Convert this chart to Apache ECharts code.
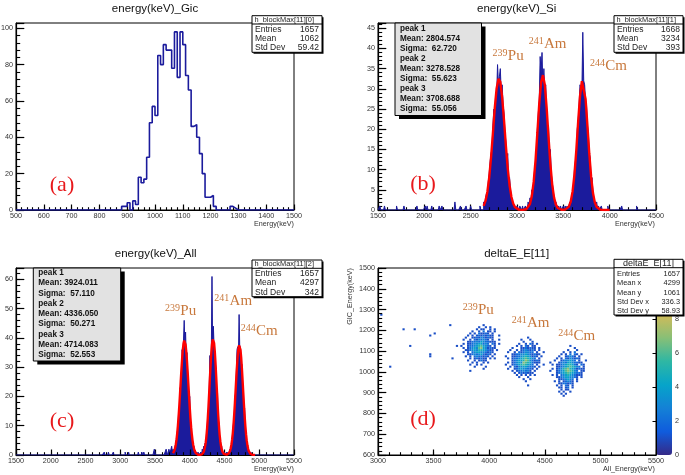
<!DOCTYPE html>
<html><head><meta charset="utf-8">
<script src="https://cdn.jsdelivr.net/npm/echarts@6.0.0/dist/echarts.min.js"></script>
<style>html,body{margin:0;padding:0;background:#fff}#c{width:685px;height:475px}</style>
</head><body><div id="c"></div>
<script>
// ---------------- data ----------------
// (a) energy(keV)_Gic : 10 keV bins starting at 880 keV
const aBinStart = 880, aBinWidth = 10;
const aCounts = [2,2,4,0,5,3,18,15,17,29,48,57,52,85,80,91,88,88,78,98,73,98,91,74,66,46,47,40,31,20,7,7,8,2,0,0,0,0,0,2,1];

// (b) energy(keV)_Si : 10 keV bins starting at 2640 keV
const bBinStart = 2640, bBinWidth = 10;
const bCounts = [
 2,1,3,4,3,7,9,12,14,15,
 21,25,23,29,28,36,31,33,35,29,
 31,26,24,19,17,11,14,7,8,5,
 3,2,2,1,1,0,1,1,0,1,
 1,0,1,0,0,1,1,0,2,1,
 3,2,5,4,7,10,11,14,20,24,
 27,38,34,39,30,35,29,31,24,20,
 21,13,15,9,7,5,3,1,2,1,
 0,1,0,1,0,0,1,0,1,0,
 1,0,1,2,1,3,4,6,10,12,
 14,20,22,26,31,30,29,44,32,31,
 27,26,21,19,14,13,7,8,4,3,
 3,1,2,0,1,0,0,1];
const bOutliers = [[1520,1],[1570,1],[1700,1],[1780,1],[1920,1],[2010,1],[2030,1],[2080,1],[2160,1],[2190,1],[2330,2],[2390,1],[2450,1],[2500,1],[2600,1],[3980,1],[4130,1],[4290,1]];
const bFitStart = 2640, bFitStep = 20;
const bFitValues = [1.0,2.25,4.46,8.02,13.0,19.0,25.2,30.1,32.5,31.7,27.9,22.2,15.9,10.3,6.07,3.21,1.54,0.66,0.26,0.09,0.03,0.02,0.06,0.19,0.57,1.50,3.45,6.95,12.3,19.2,26.3,31.6,33.4,31.0,25.3,18.1,11.4,6.30,3.07,1.31,0.49,0.16,0.06,0.04,0.09,0.30,0.85,2.11,4.61,8.84,14.8,21.9,28.2,31.9,31.6,27.5,20.9,14.0,8.18,4.20,1.89,0.75,0.26,0.08,0.02,0,0,0,0];

// (c) energy(keV)_All : 10 keV bins starting at 3650 keV
const cBinStart = 3650, cBinWidth = 10;
const cCounts = [
 0,2,1,0,1,2,1,1,2,3,
 1,2,1,2,3,4,4,8,9,15,
 14,23,22,27,36,33,39,46,37,42,
 33,35,28,25,18,20,11,10,6,5,
 2,3,1,0,1,0,0,1,0,0,
 0,1,0,2,1,3,2,4,3,7,
 9,14,15,22,34,27,34,61,35,44,
 37,33,31,29,20,21,12,11,6,5,
 2,3,1,1,0,1,0,0,1,0,
 1,0,1,2,1,4,5,9,11,13,
 20,21,28,36,37,33,48,36,37,27,
 31,20,24,14,16,9,6,5,3,2,
 1,1,0,1];
const cOutliers = [[2770,1],[2830,1],[2900,1],[3070,1],[3120,1],[3260,1],[3310,1],[3340,1],[3490,2],[3500,1]];
const cFitStart = 3760, cFitStep = 10;
const cFitValues = [0.63,1.03,1.63,2.5,3.7,5.3,7.5,10.1,13.3,16.9,20.9,25.1,29.1,32.8,35.9,38.0,39.1,39.0,37.7,35.3,32.1,28.3,24.2,20.1,16.2,12.6,9.5,7.0,5.0,3.4,2.3,1.5,0.94,0.57,0.34,0.19,0.1,
 0.05,0.03,0.06,0.09,0.17,
 0.32,0.59,1.03,1.73,2.79,4.3,6.4,9.2,12.7,16.8,21.4,26.2,30.8,34.8,37.8,39.5,39.7,38.3,35.5,31.7,27.1,22.4,17.7,13.5,9.9,6.9,4.7,3.05,1.9,1.15,0.66,0.37,0.19,0.1,
 0.09,0.1,0.16,
 0.29,0.51,0.88,1.46,2.32,3.58,5.3,7.6,10.5,14.0,17.9,22.2,26.5,30.5,33.9,36.3,37.5,37.4,35.9,33.3,29.7,25.6,21.3,17.1,13.2,9.9,7.1,4.9,3.3,2.1,1.3,0.79,0.46,0.26,0.14,
 0.07,0.04,0.02,0.01,0,0];

// (d) deltaE_E[11] : 2D cells, 20 keV (x) by 10 keV (y); rows from top; '.'=0, digits=counts
const dCellX = 20, dCellY = 10;
const dPuX0 = 3740, dPuYTop = 1220;
const dPuRows = [
"..........1.......","........1..1.1....",".......1.11..1.1..",".....1..1.2.11.1..",
"....1.1.21121.1...","...1.1.12121211..1","..1..1121321211...",".1..1.2132321.1..1",
"...1122324322111..",".1.1123344232.21.1","1..12234564321.1..",".1.1234367431211..",
"..1123435543211.1.",".1.1.2344332121...","...11232342121.1..","..1.1.2322121.1...",
"....1.121211.1.1..","...1..1.1211......",".....1.1..1.1.....","....1..1.1........",
"......1....1......","..........1.......","....1............."];
const dAmX0 = 4140, dAmYTop = 1160;
const dAmRows = [
"..........1.......",".......1...1......","........1...1.....","......1..1.21.1...",
".....1.1.21.11....","...1...1121211.1..","..1..1.1232121.1..",".1..1.2123322.1..1",
"...1122334321211..","1..112234543121.1.",".1.12234565432.1..","...1234457632121..",
".1.1234376542111..","1..1234565432.1..1","..1.2133443221.1..",".1..123433221.1...",
"...1.1223231.1....","....1.1212111.....",".....1.1.1.1.1....","......1...1.......",
"........1..1......",".........1........","..................","..........1......."];
const dCmX0 = 4540, dCmYTop = 1120;
const dCmRows = [
".........1........","...........1......","........1...1.....","......1..1.2......",
".....1.1.2.21.1...","....1..12321.1....","...1.1.2132121....","..1..1233432.1..1.",
"1...12324432211...",".1.1123455421.21..","...11234565432.1..",".1.1235675431211..",
"1..1234676532.11..","...123456543221...",".1.1.2345432111...","...1123443321.1...",
"....1123432.1.....","..1.1.12321.1.....","....1122121.......","...1.1.21.1.......",
"....11.12.1.......",".....1.11.........","....1.1..1........",".....1.1..........",
"......1..........."];
const dOutliers = [[3020,1270],[3100,1020],[3220,1200],[3320,1200],[3280,1120],[3460,1170],[3500,1180],[3460,1080],[3460,1070],[3640,1220],[3700,1120],[3660,1060]];
const dColorMax = 11;

// ---------------- helpers ----------------
const FONT = '"Liberation Sans", Arial, Helvetica, sans-serif';
const SERIF = '"Liberation Serif", "Times New Roman", serif';
const HIST = '#1b1b9c';
const ISO = '#c8783c';
const LAB = '#e8191c';

function histData(xmin, xmax, width, start, counts, outliers) {
  const n = Math.round((xmax - xmin) / width);
  const v = new Array(n).fill(0);
  const off = Math.round((start - xmin) / width);
  counts.forEach((c, i) => { const k = off + i; if (k >= 0 && k < n) v[k] = c; });
  (outliers || []).forEach(p => { const k = Math.round((p[0] - xmin) / width); if (k >= 0 && k < n) v[k] = p[1]; });
  const d = v.map((c, k) => [xmin + k * width, c]);
  d.push([xmax, v[n - 1]]);
  return d;
}
function fitData(start, step, vals) { return vals.map((v, i) => [start + i * step, v]); }
function cells(x0, yTop, rows) {
  const out = [];
  rows.forEach((row, r) => {
    for (let c = 0; c < row.length; c++) {
      const ch = row[c]; if (ch === '.') continue;
      out.push([x0 + c * dCellX + dCellX / 2, yTop - r * dCellY + dCellY / 2, parseInt(ch, 36)]);
    }
  });
  return out;
}
function fmt(step) { return v => (Math.abs(v / step - Math.round(v / step)) < 1e-6 ? String(Math.round(v)) : ''); }

const gridsPx = [
  {left: 16, top: 23, width: 278, height: 187},
  {left: 378, top: 23, width: 278, height: 187},
  {left: 16, top: 268, width: 278, height: 187},
  {left: 378, top: 268, width: 278, height: 187}
];
const axDef = [
  {x: [500, 1500, 100, 20], y: [0, 102.9, 20, 4]},
  {x: [1500, 4500, 500, 100], y: [0, 46.3, 5, 1]},
  {x: [1500, 5500, 500, 100], y: [0, 63.9, 10, 2]},
  {x: [3000, 5500, 500, 100], y: [600, 1500, 100, 20]}
];
const xAxes = [], yAxes = [];
axDef.forEach((a, gi) => {
  const common = {type: 'value', gridIndex: gi, splitLine: {show: false}, minorTick: {show: false}, z: 3};
  xAxes.push(Object.assign({}, common, {min: a.x[0], max: a.x[1], interval: a.x[2], position: 'bottom',
    axisLine: {show: true, onZero: false, lineStyle: {color: '#000', width: 1.2}},
    axisTick: {show: true, inside: true, length: 5.5, lineStyle: {color: '#000', width: 1.2}},
    axisLabel: {show: true, interval: 0, showMinLabel: true, showMaxLabel: true, hideOverlap: false, margin: 3, fontSize: 7.2, color: '#333', fontFamily: FONT, formatter: fmt(a.x[2])}}));
  xAxes.push(Object.assign({}, common, {min: a.x[0], max: a.x[1], interval: a.x[3], position: 'bottom',
    axisLine: {show: false, onZero: false},
    axisTick: {show: true, inside: true, length: 2.8, lineStyle: {color: '#000', width: 1.1}},
    axisLabel: {show: false}}));
  yAxes.push(Object.assign({}, common, {min: a.y[0], max: a.y[1], interval: a.y[2], position: 'left',
    axisLine: {show: true, onZero: false, lineStyle: {color: '#000', width: 1.2}},
    axisTick: {show: true, inside: true, length: 8.3, lineStyle: {color: '#000', width: 1.2}},
    axisLabel: {show: true, interval: 0, showMinLabel: true, showMaxLabel: true, hideOverlap: false, margin: 3, fontSize: 7.2, color: '#333', fontFamily: FONT, formatter: fmt(a.y[2])}}));
  yAxes.push(Object.assign({}, common, {min: a.y[0], max: a.y[1], interval: a.y[3], position: 'left',
    axisLine: {show: false, onZero: false},
    axisTick: {show: true, inside: true, length: 4.2, lineStyle: {color: '#000', width: 1.1}},
    axisLabel: {show: false}}));
});
// colour bar axis (grid 4)
xAxes.push({type: 'value', gridIndex: 4, show: false, min: 0, max: 1});
yAxes.push({type: 'value', gridIndex: 4, position: 'right', min: 0, max: dColorMax, interval: 2, z: 10,
  axisLine: {show: true, lineStyle: {color: '#000', width: 1}},
  axisTick: {show: true, inside: true, length: 3.5, lineStyle: {color: '#000', width: 1}},
  axisLabel: {show: true, margin: 3, fontSize: 7.2, color: '#333', fontFamily: FONT, formatter: fmt(2), showMaxLabel: true},
  splitLine: {show: false}});

// graphic helpers
function txt(x, y, s, o) {
  o = o || {};
  const align = o.align || 'left', va = o.va || 'middle';
  return {type: 'text', x: x, y: y, rotation: o.rot || 0, z: o.z || 120, silent: true,
    style: {text: s, fill: o.color || '#222', font: (o.weight || 'normal') + ' ' + (o.size || 8.5) + 'px ' + (o.family || FONT),
      align: align, verticalAlign: va, textAlign: align, textVerticalAlign: va}};
}
function rect(x, y, w, h, fill, stroke, lw, z) {
  return {type: 'rect', z: z, silent: true, shape: {x: x, y: y, width: w, height: h},
    style: {fill: fill, stroke: stroke || null, lineWidth: lw || 0}};
}
function hline(x1, x2, y, z) {
  return {type: 'line', z: z, silent: true, shape: {x1: x1, y1: y, x2: x2, y2: y}, style: {stroke: '#000', lineWidth: 1}};
}
function statsBox(x, y, w, h, titleH, title, titleSize, titleAlign, rows, rowStart, rowStep, rowSize) {
  const els = [];
  els.push(rect(x + 1.5, y + 1.5, w, h, '#000', null, 0, 110));
  els.push(rect(x, y, w, h, '#fff', '#000', 1, 111));
  els.push(hline(x, x + w, y + titleH, 112));
  els.push(titleAlign === 'center' ? txt(x + w / 2, y + titleH / 2 + 0.3, title, {align: 'center', size: titleSize})
                                  : txt(x + 2.5, y + titleH / 2 + 0.3, title, {size: titleSize}));
  rows.forEach((r, i) => {
    els.push(txt(x + 3, y + rowStart + i * rowStep, r[0], {size: rowSize}));
    els.push(txt(x + w - 3, y + rowStart + i * rowStep, r[1], {size: rowSize, align: 'right'}));
  });
  return els;
}
function fitBox(x, y, w, h, lines, textX, rowStart, rowStep) {
  const els = [];
  els.push(rect(x + 4, y + 3.5, w, h, '#000', null, 0, 110));
  els.push(rect(x, y, w, h, '#e2e2e2', '#000', 1, 111));
  lines.forEach((s, i) => els.push(txt(textX, rowStart + i * rowStep, s, {size: 8.2, weight: 'bold', color: '#111'})));
  return els;
}
function iso(left, base, sup, main) {
  return [txt(left, base - 7.5, sup, {size: 10, family: SERIF, color: ISO}),
          txt(left + 15.3, base - 5, main, {size: 15, family: SERIF, color: ISO})];
}

let g = [];
g.push(txt(155, 8.5, 'energy(keV)_Gic', {align: 'center', size: 11.5, color: '#111'}));
g.push(txt(516.7, 8.5, 'energy(keV)_Si', {align: 'center', size: 11.5, color: '#111'}));
g.push(txt(155.7, 253.5, 'energy(keV)_All', {align: 'center', size: 11.5, color: '#111'}));
g.push(txt(516.7, 253.5, 'deltaE_E[11]', {align: 'center', size: 11.5, color: '#111'}));
g.push(txt(294, 224.5, 'Energy(keV)', {align: 'right', size: 7.2, color: '#333'}));
g.push(txt(655, 224.5, 'Energy(keV)', {align: 'right', size: 7.2, color: '#333'}));
g.push(txt(294, 469.5, 'Energy(keV)', {align: 'right', size: 7.2, color: '#333'}));
g.push(txt(655, 469.5, 'All_Energy(keV)', {align: 'right', size: 7.2, color: '#333'}));
g.push(txt(350, 268, 'GIC_Energy(keV)', {align: 'right', size: 7.2, color: '#333', rot: Math.PI / 2}));
g.push(txt(62, 185, '(a)', {align: 'center', size: 22, family: SERIF, color: LAB}));
g.push(txt(423, 184, '(b)', {align: 'center', size: 22, family: SERIF, color: LAB}));
g.push(txt(62, 421, '(c)', {align: 'center', size: 22, family: SERIF, color: LAB}));
g.push(txt(423, 419, '(d)', {align: 'center', size: 22, family: SERIF, color: LAB}));
g = g.concat(iso(492.5, 61, '239', 'Pu'), iso(528.7, 48.7, '241', 'Am'), iso(590, 71, '244', 'Cm'));
g = g.concat(iso(165, 316, '239', 'Pu'), iso(214.3, 305.7, '241', 'Am'), iso(240.7, 336, '244', 'Cm'));
g = g.concat(iso(462.7, 315, '239', 'Pu'), iso(511.7, 327.7, '241', 'Am'), iso(558.3, 341, '244', 'Cm'));
g = g.concat(statsBox(252, 15.7, 70, 36.6, 8.3, 'h_blockMax[11][0]', 7.4, 'left', [['Entries', '1657'], ['Mean', '1062'], ['Std Dev', '59.42']], 13.6, 9.2, 8.5));
g = g.concat(statsBox(614, 15.7, 69, 36.6, 8.3, 'h_blockMax[11][1]', 7.4, 'left', [['Entries', '1668'], ['Mean', '3234'], ['Std Dev', '393']], 13.6, 9.2, 8.5));
g = g.concat(statsBox(252, 260, 70, 36.7, 8.3, 'h_blockMax[11][2]', 7.4, 'left', [['Entries', '1657'], ['Mean', '4297'], ['Std Dev', '342']], 13.3, 9.5, 8.5));
g = g.concat(statsBox(614, 259.3, 69, 55.7, 8.4, 'deltaE_E[11]', 9, 'center', [['Entries', '1657'], ['Mean x', '4299'], ['Mean y', '1061'], ['Std Dev x', '336.3'], ['Std Dev y', '58.93']], 14.7, 9.33, 7.4));
g = g.concat(fitBox(395, 23, 86.5, 92.5, ['peak 1', 'Mean: 2804.574', 'Sigma:  62.720', 'peak 2', 'Mean: 3278.528', 'Sigma:  55.623', 'peak 3', 'Mean: 3708.688', 'Sigma:  55.056'], 400, 28.3, 10.1));
g = g.concat(fitBox(33.3, 268, 87.4, 93, ['peak 1', 'Mean: 3924.011', 'Sigma:  57.110', 'peak 2', 'Mean: 4336.050', 'Sigma:  50.271', 'peak 3', 'Mean: 4714.083', 'Sigma:  52.553'], 38.3, 272.7, 10.3));

const dData = cells(dPuX0, dPuYTop, dPuRows)
  .concat(cells(dAmX0, dAmYTop, dAmRows))
  .concat(cells(dCmX0, dCmYTop, dCmRows))
  .concat(dOutliers.map(p => [p[0] + dCellX / 2, p[1] + dCellY / 2, 1]));

const lineBase = {type: 'line', step: 'end', symbol: 'none', showSymbol: false, silent: true, clip: true, animation: false};
const option = {
  animation: false,
  backgroundColor: '#ffffff',
  textStyle: {fontFamily: FONT},
  grid: gridsPx.map(p => Object.assign({show: true, borderColor: '#000', borderWidth: 1, backgroundColor: 'transparent', containLabel: false, outerBoundsMode: 'none'}, p))
    .concat([{left: 656, top: 268, width: 16, height: 187, show: false, containLabel: false, outerBoundsMode: 'none'}]),
  xAxis: xAxes,
  yAxis: yAxes,
  visualMap: [{
    type: 'continuous', seriesIndex: 5, dimension: 2, min: 0, max: dColorMax,
    left: 656, top: 268, itemWidth: 16, itemHeight: 187, padding: 0,
    calculable: false, hoverLink: false, realtime: false, text: null, showLabel: false,
    inRange: {color: ['#352a87', '#0f5cdd', '#1481d6', '#06a4ca', '#2eb7a4', '#87bf77', '#d1bb59', '#fec832', '#f9fb0e']}
  }],
  series: [
    Object.assign({}, lineBase, {xAxisIndex: 0, yAxisIndex: 0, data: histData(500, 1500, aBinWidth, aBinStart, aCounts, []), lineStyle: {color: HIST, width: 1.6}}),
    Object.assign({}, lineBase, {xAxisIndex: 2, yAxisIndex: 2, data: histData(1500, 4500, bBinWidth, bBinStart, bCounts, bOutliers), lineStyle: {color: HIST, width: 1}, areaStyle: {color: HIST, opacity: 1}}),
    {type: 'line', xAxisIndex: 2, yAxisIndex: 2, symbol: 'none', showSymbol: false, silent: true, z: 4, data: fitData(bFitStart, bFitStep, bFitValues), lineStyle: {color: '#ff0000', width: 2.4}},
    Object.assign({}, lineBase, {xAxisIndex: 4, yAxisIndex: 4, data: histData(1500, 5500, cBinWidth, cBinStart, cCounts, cOutliers), lineStyle: {color: HIST, width: 1}, areaStyle: {color: HIST, opacity: 1}}),
    {type: 'line', xAxisIndex: 4, yAxisIndex: 4, symbol: 'none', showSymbol: false, silent: true, z: 4, data: fitData(cFitStart, cFitStep, cFitValues), lineStyle: {color: '#ff0000', width: 2.4}},
    {type: 'scatter', xAxisIndex: 6, yAxisIndex: 6, symbol: 'rect', symbolSize: [2.2, 2.0], silent: true, data: dData, itemStyle: {opacity: 1}}
  ],
  graphic: {elements: g}
};
const chart = echarts.init(document.getElementById('c'), null, {renderer: 'canvas'});
chart.setOption(option);
</script>
</body></html>
